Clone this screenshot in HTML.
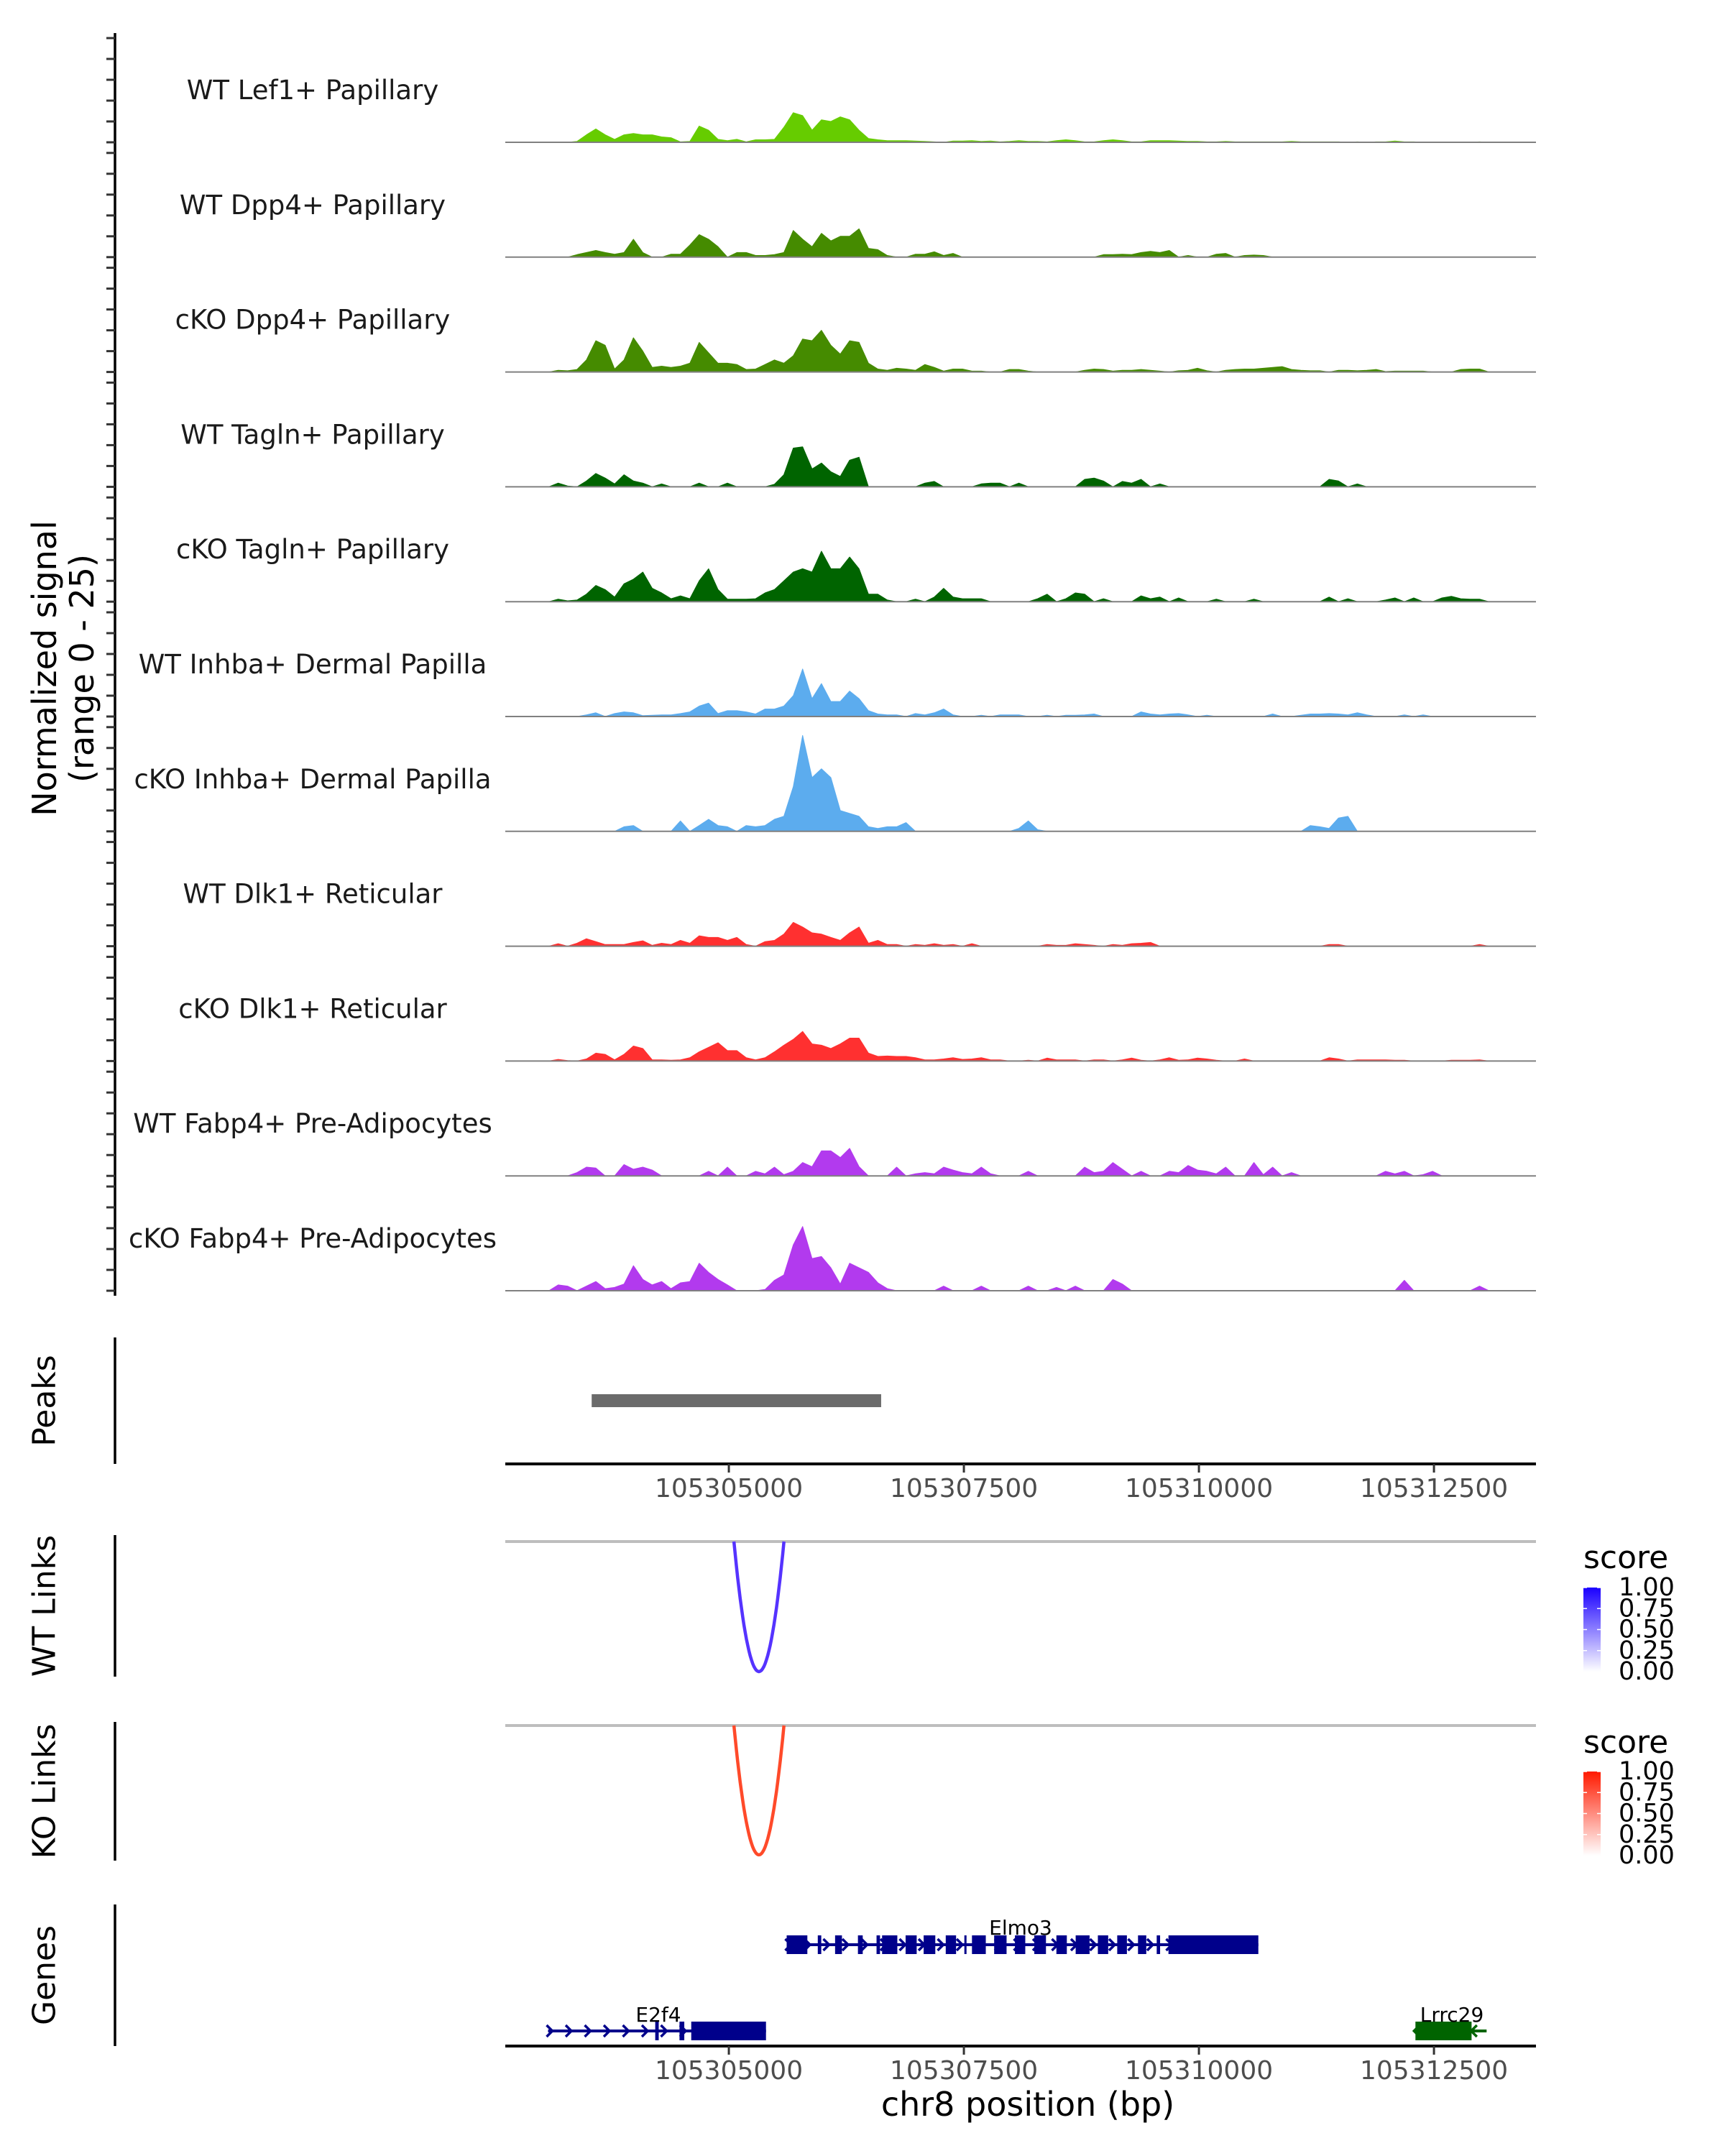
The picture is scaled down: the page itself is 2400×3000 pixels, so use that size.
<!DOCTYPE html>
<html><head><meta charset="utf-8">
<style>
html,body{margin:0;padding:0;background:#fff;}
svg{display:block;font-family:"DejaVu Sans","Liberation Sans",sans-serif;}
</style></head>
<body>
<svg id="fig" xmlns="http://www.w3.org/2000/svg" width="2400" height="3000" viewBox="0 0 2400 3000">
<rect width="2400" height="3000" fill="#fff"/>
<g id="tracks"></g>
<g id="axes"></g>
<g id="annot"></g>
<text transform="translate(62,930) rotate(-90)" text-anchor="middle" dominant-baseline="central" font-size="46" fill="#000">Normalized signal</text>
<text transform="translate(114,930) rotate(-90)" text-anchor="middle" dominant-baseline="central" font-size="46" fill="#000">(range 0 - 25)</text>
<text x="1430" y="2944" text-anchor="middle" font-size="46" fill="#000">chr8 position (bp)</text>
</svg>
<script>
// ---- data ----
const regionStart = 105302622, regionEnd = 105313585;
const sampleStart = 105303085, sampleStep = 100;
const yTicks = [0,5,10,15,20,25];
const xTickLabels = [105305000,105307500,105310000,105312500];
const trackNames = ["WT Lef1+ Papillary","WT Dpp4+ Papillary","cKO Dpp4+ Papillary","WT Tagln+ Papillary","cKO Tagln+ Papillary","WT Inhba+ Dermal Papilla","cKO Inhba+ Dermal Papilla","WT Dlk1+ Reticular","cKO Dlk1+ Reticular","WT Fabp4+ Pre-Adipocytes","cKO Fabp4+ Pre-Adipocytes"];
const trackColors = ["#66cc00","#458b00","#458b00","#006400","#006400","#5cacee","#5cacee","#ff3030","#ff3030","#b23aee","#b23aee"];
const lef1WT = [0,0,0,0.2,1.8,3.2,1.8,0.7,1.8,2.1, 1.8,1.8,1.3,1.1,0.1,0.2,3.9,2.9,0.7,0.4, 0.7,0.1,0.6,0.6,0.7,3.6,7.1,6.4,2.9,5.4, 5,6.1,5.4,2.9,0.9,0.6,0.4,0.4,0.4,0.3, 0.2,0.1,0,0.3,0.3,0.4,0.2,0.3,0.1,0.2, 0.4,0.2,0.2,0.1,0.4,0.6,0.4,0.1,0.1,0.4, 0.6,0.4,0.1,0.1,0.4,0.4,0.4,0.3,0.2,0.2, 0.1,0.1,0.2,0.1,0.1,0.1,0.1,0.1,0.1,0.2, 0.1,0.1,0.1,0.1,0.1,0,0.1,0,0.1,0.1, 0.3,0.1,0.1,0,0,0,0,0,0,0.1, 0];
const dpp4WT = [0,0,0,0.6,1.1,1.6,1.1,0.7,1.1,4.3, 1.1,0,0,0.7,0.7,2.9,5.4,4.3,2.5,0, 1.1,1.1,0.4,0.4,0.6,1.1,6.4,4.3,2.5,5.7, 3.9,5,5,6.8,2.1,1.8,0.4,0,0,0.7, 0.7,1.3,0.4,0.9,0,0,0,0,0,0, 0,0,0,0,0,0,0,0,0,0.6, 0.6,0.7,0.6,1.1,1.4,1.1,1.6,0,0.4,0, 0,0.7,0.9,0,0.4,0.5,0.4,0,0,0, 0,0,0,0,0,0,0,0,0,0, 0,0,0,0,0,0,0,0,0,0, 0];
const dpp4KO = [0,0.4,0.3,0.6,2.9,7.5,6.4,0.7,2.9,8.2, 5,1.1,1.4,1.1,1.4,2.1,7.1,4.6,2.1,2.1, 1.8,0.6,0.7,1.8,2.9,2.1,3.9,7.9,7.5,10, 6.4,4.3,7.5,7.1,2.1,0.7,0.4,0.9,0.7,0.4, 1.8,1.1,0.2,0.7,0.7,0.2,0.2,0,0,0.6, 0.6,0.2,0,0,0,0,0,0.4,0.7,0.6, 0.2,0.4,0.4,0.6,0.4,0.2,0,0.3,0.4,0.9, 0.3,0,0.4,0.6,0.7,0.7,0.9,1.1,1.3,0.6, 0.4,0.3,0.3,0,0.4,0.4,0.3,0.4,0.6,0.1, 0.2,0.2,0.2,0.2,0,0,0,0.6,0.7,0.7, 0];
const taglnWT = [0,0.9,0.2,0,1.4,3.2,2.1,0.7,2.9,1.4, 0.9,0,0.7,0,0,0,0.9,0,0,0.9, 0,0,0,0,0.6,2.9,9.3,9.6,4.3,5.7, 3.6,2.5,6.4,7.1,0,0,0,0,0,0, 0.9,1.3,0,0,0,0,0.7,0.9,0.9,0, 0.9,0,0,0,0,0,0,1.8,2.1,1.4, 0,1.3,0.9,1.8,0,0.7,0,0,0,0, 0,0,0,0,0,0,0,0,0,0, 0,0,0,1.8,1.4,0,0.7,0,0,0, 0,0,0,0,0,0,0,0,0,0, 0];
const taglnKO = [0,0.6,0.2,0.4,1.8,3.9,2.9,1.1,4.3,5.4, 7.1,3.2,2.1,0.7,1.4,0.7,5,7.9,2.9,0.6, 0.6,0.6,0.7,2.1,2.9,5,7.1,7.9,7.1,12.1, 7.9,7.9,10.7,7.9,1.8,1.8,0.4,0,0,0.6, 0,1.1,3.2,1.1,0.7,0.7,0.7,0,0,0, 0,0,0.7,1.8,0,0.7,2.1,1.8,0,0.7, 0,0,0,1.4,0.7,1.1,0,0.9,0,0, 0,0.6,0,0,0,0.6,0,0,0,0, 0,0,0,1.1,0,0.7,0,0,0,0.4, 0.9,0,0.9,0,0,0.9,1.3,0.7,0.6,0.6, 0];
const inhbaWT = [0,0,0,0,0.4,0.9,0,0.7,1.1,0.9, 0.2,0.3,0.4,0.4,0.7,1.1,2.5,3.2,0.7,1.4, 1.4,1.1,0.6,1.8,1.8,2.5,5,11.4,4.3,7.9, 3.6,3.6,6.1,4.3,1.4,0.6,0.4,0.4,0,0.7, 0.4,0.9,1.8,0.4,0,0,0.3,0,0.4,0.4, 0.4,0,0,0.3,0,0.3,0.3,0.4,0.6,0, 0,0,0,1.1,0.6,0.4,0.6,0.7,0.4,0, 0.3,0,0,0,0,0,0,0.6,0,0, 0.3,0.6,0.6,0.7,0.6,0.4,0.9,0.4,0,0, 0,0.4,0,0.4,0,0,0,0,0,0, 0];
const inhbaKO = [0,0,0,0,0,0,0,0,1.1,1.4, 0,0,0,0,2.5,0,1.4,2.9,1.4,1.1, 0,1.4,1.1,1.4,2.9,3.6,10.7,23,12.9,15, 12.9,5,4.3,3.6,1.1,0.7,1.1,1.1,2.1,0, 0,0,0,0,0,0,0,0,0,0, 0.7,2.5,0.4,0,0,0,0,0,0,0, 0,0,0,0,0,0,0,0,0,0, 0,0,0,0,0,0,0,0,0,0, 0,1.4,1.1,0.7,3.2,3.6,0,0,0,0, 0,0,0,0,0,0,0,0,0,0, 0];
const dlk1WT = [0,0.6,0,0.7,1.8,1.1,0.4,0.4,0.4,0.9, 1.3,0.2,0.7,0.4,1.4,0.7,2.5,2.1,2.1,1.4, 2.1,0.4,0,1.1,1.4,2.9,5.7,4.6,3.2,2.9, 2.1,1.4,3.2,4.6,0.7,1.4,0.4,0.4,0,0.4, 0.2,0.6,0.2,0.4,0,0.6,0,0,0,0, 0,0,0,0.4,0.2,0.2,0.6,0.4,0.2,0, 0.4,0.2,0.6,0.7,0.9,0,0,0,0,0, 0,0,0,0,0,0,0,0,0,0, 0,0,0,0.4,0.4,0,0,0,0,0, 0,0,0,0,0,0,0,0,0,0.4, 0];
const dlk1KO = [0,0.4,0.1,0,0.5,1.9,1.6,0.3,1.6,3.6, 3,0.3,0.3,0.2,0.3,0.8,2.2,3.3,4.4,2.5, 2.5,0.8,0.3,0.8,2.2,3.8,5.2,7.1,4.1,3.8, 3,4.1,5.5,5.5,1.9,1.1,1.2,1.1,1.1,0.8, 0.3,0.3,0.5,0.8,0.4,0.5,0.8,0.3,0.3,0, 0,0.2,0,0.7,0.3,0.3,0.3,0,0.3,0.3, 0,0.3,0.7,0.2,0,0.3,0.8,0.2,0.3,0.7, 0.5,0.2,0,0,0.5,0,0,0,0,0, 0,0,0,0.8,0.5,0,0.3,0.3,0.3,0.3, 0.2,0.2,0,0,0,0,0.2,0.2,0.2,0.3, 0];
const fabp4WT = [0,0,0,0.8,2.1,1.9,0,0,2.7,1.6, 2.1,1.4,0,0,0,0,0,1.1,0,2.1, 0,0,1.1,0.5,2.1,0.3,1.1,3.2,2.2,6, 6,4.4,6.6,2.2,0,0,0,2.1,0,0.5, 0.8,0.5,2.1,1.4,0.8,0.5,2.1,0.5,0,0, 0,1.1,0,0,0,0,0,2.1,0.8,1.1, 3.2,1.6,0,1.1,0,0,1.1,0.8,2.5,1.4, 1.1,0.5,2.1,0,0,3.2,0.3,2.1,0,0.8, 0,0,0,0,0,0,0,0,0,1.1, 0.5,1.1,0,0.3,1.1,0,0,0,0,0, 0];
const fabp4KO = [0,1.4,1.1,0,1.1,2.2,0.5,0.8,1.6,6, 2.7,1.4,2.2,0.5,1.9,2.2,6.6,4.4,2.7,1.4, 0,0,0,0.3,2.5,3.8,11,15.4,7.7,8.2, 5.5,1.6,6.6,5.5,4.4,1.9,0.5,0,0,0, 0,0,1.1,0,0,0,1.1,0,0,0, 0,1.1,0,0,0.8,0,1.1,0,0,0, 2.7,1.6,0,0,0,0,0,0,0,0, 0,0,0,0,0,0,0,0,0,0, 0,0,0,0,0,0,0,0,0,0, 0,2.5,0,0,0,0,0,0,0,1.1, 0];
const trackValues = [lef1WT,dpp4WT,dpp4KO,taglnWT,taglnKO,inhbaWT,inhbaKO,dlk1WT,dlk1KO,fabp4WT,fabp4KO];
const peakStarts = [105303541];
const peakEnds = [105306620];
const wtLinkStart = [105305054], wtLinkEnd = [105305586], wtLinkScore = [0.75];
const koLinkStart = [105305054], koLinkEnd = [105305586], koLinkScore = [0.75];
const legendTicks = [1.00,0.75,0.50,0.25,0.00];
const geneNames = ["Elmo3","E2f4","Lrrc29"];
const geneStarts = [105305615,105303077,105312303];
const geneEnds = [105310632,105305395,105313060];
const geneStrands = ["+","+","-"];
const elmo3Exons = [[105305615,105305835],[105305946,105305983],[105306130,105306203],[105306373,105306424],[105306571,105306608],[105306630,105306792],[105306880,105306998],[105307072,105307196],[105307307,105307417],[105307505,105307528],[105307586,105307733],[105307822,105307954],[105308043,105308153],[105308249,105308373],[105308484,105308595],[105308689,105308837],[105308925,105309035],[105309131,105309234],[105309352,105309440],[105309551,105309587],[105309676,105310632]];
const e2f4Exons = [[105304217,105304254],[105304475,105304526],[105304600,105305395]];
const lrrc29Exons = [[105312303,105312900]];
const geneExons = [elmo3Exons,e2f4Exons,lrrc29Exons];

// ---- layout ----
const NS="http://www.w3.org/2000/svg";
const plotL=703, plotR=2137;
const xs = bp => plotL + (bp-regionStart)*(plotR-plotL)/(regionEnd-regionStart);
const base0=198, trackGap=159.8, pxPerUnit=5.8;
const baseY = k => base0 + trackGap*k;
const ys = (v,k) => baseY(k) - v*pxPerUnit;
function mk(tag, attrs, parent){const e=document.createElementNS(NS,tag);for(const k in attrs)e.setAttribute(k,attrs[k]);parent.appendChild(e);return e;}
const gT=document.getElementById('tracks'), gA=document.getElementById('axes'), gN=document.getElementById('annot');

let ax=mk('line',{x1:160,y1:46,x2:160,y2:1803,stroke:'#000','stroke-width':3.5},gA);



trackValues.forEach((vals,k)=>{
  const g=mk('g',{},gT);
  
  
  let d='M'+xs(sampleStart).toFixed(1)+','+baseY(k);
  vals.forEach((v,i)=>{d+=' L'+xs(sampleStart+sampleStep*i).toFixed(1)+','+ys(v,k).toFixed(1);});
  d+=' L'+xs(sampleStart+sampleStep*(vals.length-1)).toFixed(1)+','+baseY(k)+' Z';
  const a=mk('path',{d:d,fill:trackColors[k],stroke:trackColors[k],'stroke-width':1,'stroke-linejoin':'round'},g);
  
  
  const b=mk('line',{x1:plotL,y1:baseY(k),x2:plotR,y2:baseY(k),stroke:'#808080','stroke-width':2},g);
  
  
  const t=mk('text',{x:435,y:baseY(k)-60,'text-anchor':'middle','font-size':37,fill:'#1a1a1a'},g);
  t.textContent=trackNames[k];
  
  
  yTicks.forEach(tv=>{
    const tk=mk('line',{x1:148,y1:ys(tv,k),x2:160,y2:ys(tv,k),stroke:'#333','stroke-width':3},gA);
    
    
  });
});

const sidePanels=[["Peaks",1861,2037],["WT Links",2136,2333],["KO Links",2396,2589],["Genes",2650,2847]];
sidePanels.forEach(p=>{
  const l=mk('line',{x1:160,y1:p[1],x2:160,y2:p[2],stroke:'#000','stroke-width':3.5},gA);
  
  
  const t=mk('text',{transform:'translate(62,'+((p[1]+p[2])/2)+') rotate(-90)','text-anchor':'middle','dominant-baseline':'central','font-size':44,fill:'#000'},gA);
  t.textContent=p[0];
  
  
});

peakStarts.forEach((s,i)=>{
  const r=mk('rect',{x:xs(s),y:1940,width:xs(peakEnds[i])-xs(s),height:18,fill:'#6b6b6b'},gN);
  
  
});

function xAxis(y,name){
  const l=mk('line',{x1:plotL,y1:y,x2:plotR,y2:y,stroke:'#000','stroke-width':4},gA);
  
  
  xTickLabels.forEach(v=>{
    const tk=mk('line',{x1:xs(v),y1:y,x2:xs(v),y2:y+12,stroke:'#333','stroke-width':3},gA);
    
    
    const t=mk('text',{x:xs(v),y:y+46,'text-anchor':'middle','font-size':36,fill:'#4d4d4d'},gA);
    t.textContent=v;
    
    
  });
}
xAxis(2037,'peaks-x-axis');
xAxis(2847,'genes-x-axis');

function links(starts,ends,scores,topY,depth,col,name){
  const gl=mk('line',{x1:plotL,y1:topY,x2:plotR,y2:topY,stroke:'#bebebe','stroke-width':4},gN);
  
  
  starts.forEach((s,i)=>{
    const x1=xs(s),x2=xs(ends[i]),c=(x1+x2)/2,h=(x2-x1)/2;
    let d='';
    for(let j=0;j<=40;j++){const u=-1+j/20;const x=c+u*h;const y=topY+depth*(1-u*u);d+=(j?' L':'M')+x.toFixed(1)+','+y.toFixed(1);}
    const p=mk('path',{d:d,fill:'none',stroke:col,'stroke-width':4.5},gN);
    
    
  });
}
links(wtLinkStart,wtLinkEnd,wtLinkScore,2145,181,'#5533ff','wt-link');
links(koLinkStart,koLinkEnd,koLinkScore,2401,180,'#ff4a2a','ko-link');

function legend(topText,barTop,col,name){
  const g=mk('g',{},gN);
  
  
  const t=mk('text',{x:2203,y:topText,'font-size':44,fill:'#000'},g);
  t.textContent='score';
  const gid=name+'-grad';
  const defs=mk('defs',{},g);
  const lg=mk('linearGradient',{id:gid,x1:0,y1:0,x2:0,y2:1},defs);
  mk('stop',{offset:'0',"stop-color":col},lg);
  mk('stop',{offset:'1',"stop-color":'#ffffff'},lg);
  const h=117;
  const r=mk('rect',{x:2203,y:barTop,width:24,height:h,fill:'url(#'+gid+')'},g);
  
  
  legendTicks.forEach(v=>{
    const y=barTop+(1-v)*h;
    mk('line',{x1:2203,y1:y,x2:2208,y2:y,stroke:'#fff','stroke-width':1.5},g);
    mk('line',{x1:2222,y1:y,x2:2227,y2:y,stroke:'#fff','stroke-width':1.5},g);
    const lt=mk('text',{x:2252,y:y,'dominant-baseline':'central','font-size':35,fill:'#000'},g);
    lt.textContent=v.toFixed(2);
    
    
  });
}
legend(2182,2209,'#1a00ff','wt-score-legend');
legend(2439,2465,'#ff1a00','ko-score-legend');

const geneRowY=[2706,2826,2826];
const geneColors=['#00008b','#00008b','#006400'];
const labelPos=[[1420,2692],[916,2813],[2020,2813]];
geneNames.forEach((gname,i)=>{
  const g=mk('g',{},gN);
  
  
  const y=geneRowY[i], col=geneColors[i];
  const x1=xs(geneStarts[i]), x2=xs(geneEnds[i]);
  mk('line',{x1:x1,y1:y,x2:x2,y2:y,stroke:col,'stroke-width':4},g);
  for(let x=x1+2;x<x2-4;x+=26.5){
    const dir=geneStrands[i]==='+'?1:-1;
    mk('polyline',{points:(x-4*dir)+','+(y-8)+' '+(x+4*dir)+','+y+' '+(x-4*dir)+','+(y+8),fill:'none',stroke:col,'stroke-width':3.5},g);
  }
  geneExons[i].forEach(ex=>{
    const r=mk('rect',{x:xs(ex[0]),y:y-13,width:Math.max(2,xs(ex[1])-xs(ex[0])),height:26,fill:col},g);
    
    
  });
  const t=mk('text',{x:labelPos[i][0],y:labelPos[i][1],'text-anchor':'middle','font-size':28,fill:'#000'},g);
  t.textContent=gname;
  
  
});
</script>
</body></html>
